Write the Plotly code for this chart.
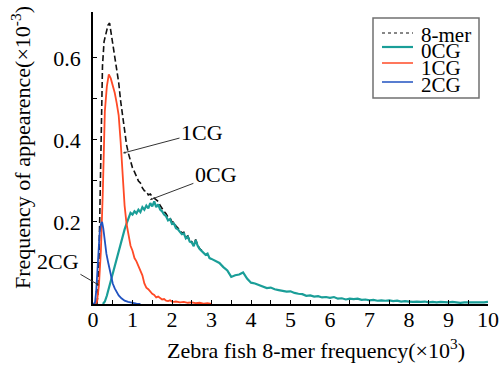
import plotly.graph_objects as go

# ---------------- data (values in units of the axes) ----------------
mer_x = [0.10, 0.12, 0.15, 0.18, 0.21, 0.24, 0.28, 0.33, 0.38, 0.42, 0.45, 0.50, 0.55, 0.60,
         0.65, 0.70, 0.75, 0.80, 0.85, 0.90, 0.95, 1.00, 1.05, 1.10, 1.15, 1.20, 1.25, 1.30,
         1.35, 1.40, 1.45, 1.50, 1.55, 1.60, 1.65, 1.70, 1.75, 1.80, 1.85, 1.90, 1.95, 2.00,
         2.05, 2.10, 2.15, 2.20, 2.25, 2.30, 2.35, 2.40, 2.45, 2.50, 2.55, 2.60, 2.65, 2.70,
         2.75, 2.80]
mer_y = [0.000, 0.020, 0.100, 0.300, 0.450, 0.580, 0.640, 0.660, 0.680, 0.685, 0.665, 0.640,
         0.605, 0.575, 0.540, 0.495, 0.455, 0.420, 0.388, 0.366, 0.345, 0.332, 0.322, 0.310,
         0.300, 0.295, 0.283, 0.276, 0.275, 0.266, 0.268, 0.262, 0.258, 0.255, 0.250, 0.240,
         0.232, 0.226, 0.220, 0.212, 0.210, 0.200, 0.200, 0.190, 0.185, 0.180, 0.173, 0.175,
         0.163, 0.166, 0.155, 0.152, 0.143, 0.157, 0.143, 0.135, 0.131, 0.127]

cg0_x = [0.25, 0.30, 0.35, 0.40, 0.45, 0.50, 0.55, 0.60, 0.65, 0.70, 0.75, 0.80, 0.85, 0.90,
         0.95, 1.00, 1.05, 1.10, 1.15, 1.20, 1.25, 1.30, 1.35, 1.40, 1.45, 1.50, 1.55, 1.60,
         1.65, 1.70, 1.75, 1.80, 1.85, 1.90, 1.95, 2.00, 2.05, 2.10, 2.15, 2.20, 2.25, 2.30,
         2.35, 2.40, 2.45, 2.50, 2.55, 2.60, 2.65, 2.70, 2.75, 2.80, 2.85, 2.90, 2.95, 3.00,
         3.1, 3.2, 3.3, 3.4, 3.5, 3.6, 3.7, 3.8, 3.9, 4.0, 4.1, 4.2, 4.3, 4.4, 4.5, 4.6, 4.7,
         4.8, 4.9, 5.0, 5.1, 5.2, 5.3, 5.4, 5.5, 5.6, 5.7, 5.8, 5.9, 6.0, 6.1, 6.2, 6.3, 6.4,
         6.5, 6.6, 6.7, 6.8, 6.9, 7.0, 7.1, 7.2, 7.3, 7.4, 7.5, 7.6, 7.7, 7.8, 7.9, 8.0, 8.1,
         8.2, 8.3, 8.4, 8.5, 8.6, 8.7, 8.8, 8.9, 9.0, 9.1, 9.2, 9.3, 9.4, 9.5, 9.6, 9.7, 9.8,
         9.9, 10.0]
cg0_y = [0.000, 0.006, 0.020, 0.038, 0.055, 0.075, 0.095, 0.108, 0.128, 0.145, 0.165, 0.182,
         0.196, 0.212, 0.222, 0.218, 0.226, 0.221, 0.230, 0.224, 0.236, 0.230, 0.240, 0.233,
         0.246, 0.238, 0.250, 0.236, 0.243, 0.230, 0.226, 0.218, 0.214, 0.204, 0.207, 0.195,
         0.196, 0.185, 0.182, 0.176, 0.170, 0.172, 0.160, 0.164, 0.152, 0.150, 0.141, 0.156,
         0.142, 0.134, 0.130, 0.126, 0.120, 0.123, 0.112, 0.110,
         0.104, 0.100, 0.090, 0.082, 0.066, 0.070, 0.072, 0.077, 0.062, 0.052, 0.050, 0.046,
         0.044, 0.039, 0.040, 0.036, 0.034, 0.032, 0.030, 0.031, 0.027, 0.025, 0.024, 0.020,
         0.021, 0.018, 0.019, 0.016, 0.017, 0.015, 0.017, 0.013, 0.014, 0.011, 0.013, 0.012,
         0.013, 0.010, 0.011, 0.009, 0.010, 0.008, 0.009, 0.008, 0.009, 0.007, 0.008, 0.006,
         0.007, 0.006, 0.005, 0.006, 0.005, 0.006, 0.004, 0.005, 0.004, 0.005, 0.004, 0.004,
         0.005, 0.004, 0.003, 0.004, 0.004, 0.003, 0.004, 0.003, 0.004, 0.005]

cg1_x = [0.05, 0.10, 0.15, 0.20, 0.25, 0.28, 0.30, 0.35, 0.40, 0.45, 0.50, 0.55, 0.60, 0.65,
         0.70, 0.75, 0.80, 0.85, 0.90, 0.95, 1.00, 1.05, 1.10, 1.15, 1.20, 1.25, 1.30, 1.35,
         1.40, 1.45, 1.50, 1.55, 1.60, 1.65, 1.70, 1.75, 1.80, 1.85, 1.90, 1.95, 2.00, 2.05,
         2.10, 2.20, 2.30, 2.40, 2.50, 2.60, 2.70, 2.80, 2.90, 3.00]
cg1_y = [0.000, 0.005, 0.045, 0.130, 0.280, 0.380, 0.470, 0.530, 0.560, 0.550, 0.535, 0.515,
         0.490, 0.460, 0.395, 0.300, 0.240, 0.195, 0.170, 0.142, 0.130, 0.112, 0.104, 0.092,
         0.078, 0.070, 0.050, 0.040, 0.036, 0.030, 0.025, 0.022, 0.016, 0.018, 0.014, 0.011,
         0.012, 0.008, 0.007, 0.009, 0.006, 0.005, 0.006, 0.004, 0.005, 0.003, 0.004, 0.002,
         0.003, 0.001, 0.002, 0.000]

cg2_x = [0.00, 0.05, 0.08, 0.11, 0.14, 0.17, 0.20, 0.23, 0.26, 0.30, 0.34, 0.38, 0.42, 0.46,
         0.50, 0.55, 0.59, 0.65, 0.72, 0.80, 0.89, 1.00, 1.10, 1.20]
cg2_y = [0.000, 0.003, 0.030, 0.080, 0.140, 0.176, 0.195, 0.200, 0.185, 0.144, 0.122, 0.103,
         0.082, 0.063, 0.050, 0.038, 0.030, 0.021, 0.014, 0.008, 0.005, 0.002, 0.001, 0.000]

series_names = ["8-mer", "0CG", "1CG", "2CG"]
x_tick_vals = [0, 1, 2, 3, 4, 5, 6, 7, 8, 9, 10]
x_minor_vals = [0.5, 1.5, 2.5, 3.5, 4.5, 5.5, 6.5, 7.5, 8.5, 9.5]
y_tick_vals = [0.2, 0.4, 0.6]
y_tick_labels = ["0.2", "0.4", "0.6"]
y_minor_vals = [0.1, 0.3, 0.5]

# ---------------- style ----------------
FONT = "Times New Roman, Liberation Serif, Tinos, serif"
FS = 22
C_MER, C0, C1, C2 = "#111111", "#1a9e98", "#ff4a26", "#2052c0"

fig = go.Figure()
fig.add_trace(go.Scatter(x=mer_x, y=mer_y, mode="lines", name=series_names[0],
                         line=dict(color=C_MER, width=1.6, dash="6px,3px")))
fig.add_trace(go.Scatter(x=cg0_x, y=cg0_y, mode="lines", name=series_names[1],
                         line=dict(color=C0, width=2.2)))
fig.add_trace(go.Scatter(x=cg1_x, y=cg1_y, mode="lines", name=series_names[2],
                         line=dict(color=C1, width=1.8)))
fig.add_trace(go.Scatter(x=cg2_x, y=cg2_y, mode="lines", name=series_names[3],
                         line=dict(color=C2, width=1.8)))

L, R, T, B = 93, 13, 12, 62
W, H = 501, 366
pw, ph = W - L - R, H - T - B


def px(xp):
    return (xp - L) / pw


def py(yp):
    return (T + ph - yp) / ph


shapes = []
annotations = []
# legend box
shapes.append(dict(type="rect", xref="paper", yref="paper", x0=px(373), x1=px(479),
                   y0=py(98), y1=py(18), line=dict(color="#707070", width=1.5),
                   fillcolor="white", layer="above"))
leg_line_y = [33, 47, 63, 82]
leg_text_y = [34.5, 50.5, 67.5, 85]
leg_styles = [dict(color=C_MER, width=1.2, dash="dot"), dict(color=C0, width=2.2),
              dict(color=C1, width=1.5), dict(color=C2, width=1.5)]
for name, ly, ty, st in zip(series_names, leg_line_y, leg_text_y, leg_styles):
    shapes.append(dict(type="line", xref="paper", yref="paper", x0=px(382), x1=px(413),
                       y0=py(ly), y1=py(ly), line=st, layer="above"))
    annotations.append(dict(xref="paper", yref="paper", x=px(419), y=py(ty),
                            xanchor="left", yanchor="middle", text=name, showarrow=False,
                            font=dict(family=FONT, size=21, color="black")))

# pointer labels
arrow_common = dict(showarrow=True, arrowhead=2, arrowsize=0.5, arrowwidth=1,
                    arrowcolor="#333333", font=dict(family=FONT, size=FS, color="black"))
annotations.append(dict(x=0.76, y=0.368, text="1CG", ax=79, ay=-21, **arrow_common))
annotations.append(dict(x=1.44, y=0.254, text="0CG", ax=66, ay=-25, **arrow_common))
annotations.append(dict(x=0.15, y=0.046, text="2CG", ax=-41, ay=-24, **arrow_common))

# axis titles
annotations.append(dict(xref="paper", yref="paper", x=px(316), y=py(349), xanchor="center",
                        yanchor="middle", showarrow=False,
                        text="Zebra fish 8-mer frequency(×10<sup>3</sup>)",
                        font=dict(family=FONT, size=FS, color="black")))
annotations.append(dict(xref="paper", yref="paper", x=px(21), y=py(148), xanchor="center",
                        yanchor="middle", showarrow=False, textangle=-90,
                        text="Frequency of appearence(×10<sup>-3</sup>)",
                        font=dict(family=FONT, size=FS, color="black")))

fig.update_layout(
    width=W, height=H, margin=dict(l=L, r=R, t=T, b=B, autoexpand=False),
    paper_bgcolor="white", plot_bgcolor="white", showlegend=False,
    font=dict(family=FONT, size=FS, color="black"),
    shapes=shapes, annotations=annotations,
)
fig.update_xaxes(range=[0, 10], showgrid=False, zeroline=False, showline=True,
                 linecolor="black", linewidth=1.5, ticks="inside", ticklen=4,
                 tickcolor="black", tickwidth=1.2, automargin=False,
                 tickmode="array", tickvals=x_tick_vals,
                 ticktext=[str(v) for v in x_tick_vals],
                 minor=dict(ticks="inside", ticklen=4, tickcolor="black", tickwidth=1.2,
                            tickmode="array", tickvals=x_minor_vals, showgrid=False),
                 tickfont=dict(family=FONT, size=FS), ticklabelstandoff=-5)
fig.update_yaxes(range=[0, 0.712], showgrid=False, zeroline=False, showline=True,
                 linecolor="black", linewidth=1.5, ticks="inside", ticklen=4,
                 tickcolor="black", tickwidth=1.2, automargin=False,
                 tickmode="array", tickvals=y_tick_vals, ticktext=y_tick_labels,
                 minor=dict(ticks="inside", ticklen=4, tickcolor="black", tickwidth=1.2,
                            tickmode="array", tickvals=y_minor_vals, showgrid=False),
                 tickfont=dict(family=FONT, size=FS), ticklabelstandoff=6)

fig.write_html("out.html")
